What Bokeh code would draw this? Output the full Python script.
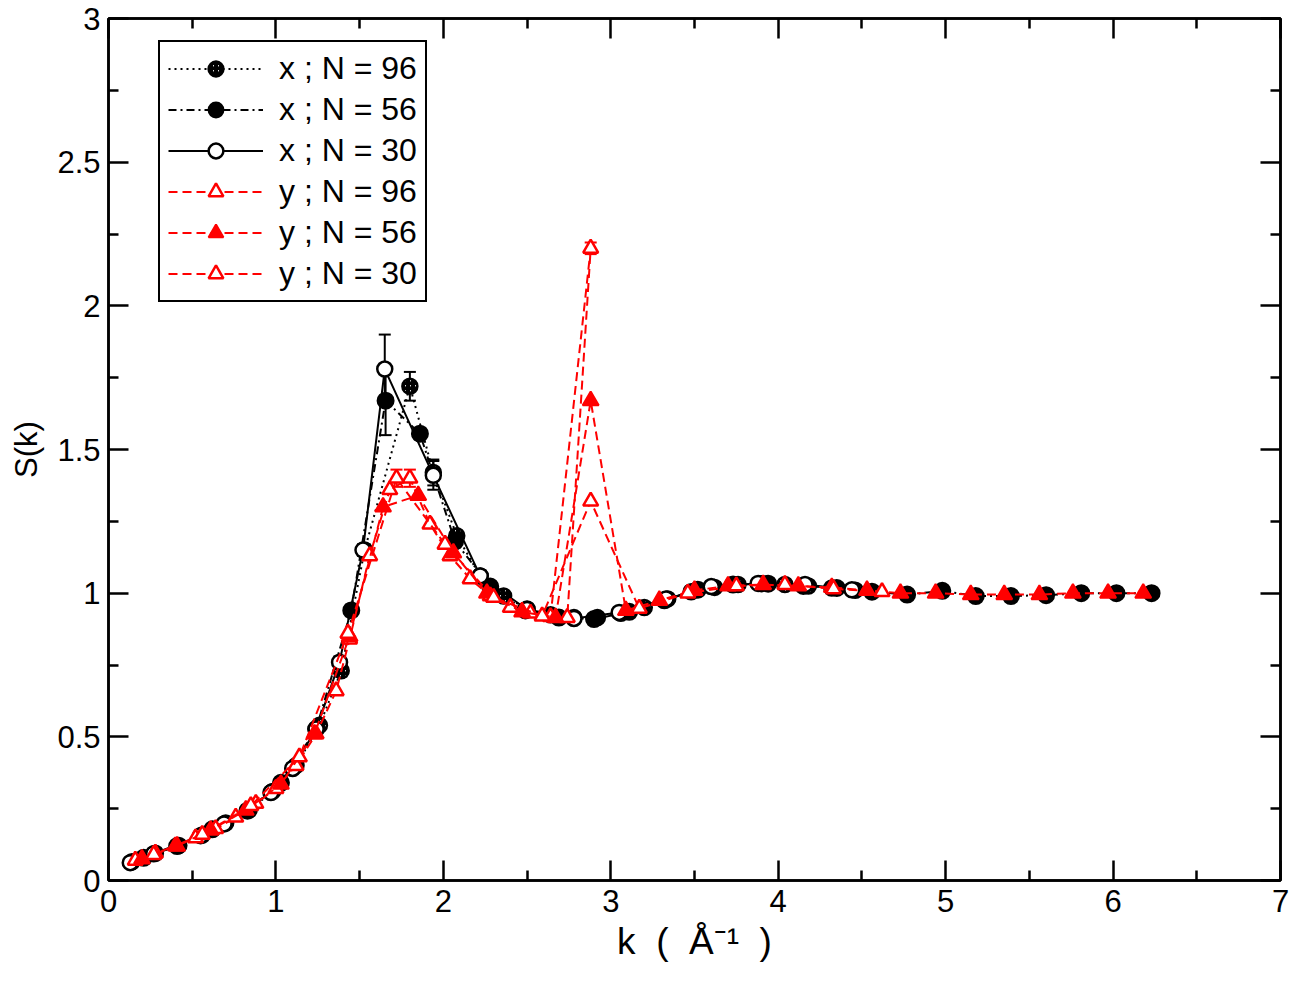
from bokeh.plotting import figure
from bokeh.models import (Legend, LegendItem, Whisker, ColumnDataSource, FixedTicker,
                          LinearAxis, Range1d, TeeHead)
from bokeh.embed import file_html
from bokeh.resources import INLINE

# ---------------- data ----------------
# x-direction, N = 96
x96_k = [0.14, 0.28, 0.42, 0.56, 0.70, 0.84, 0.98, 1.12, 1.26, 1.39, 1.53, 1.80, 1.94, 2.08,
         2.22, 2.36, 2.50, 2.64, 2.78, 2.92, 3.06, 3.20, 3.34, 3.48, 3.62, 3.76, 3.90, 4.04,
         4.18, 4.32, 4.46]
x96_s = [0.065, 0.095, 0.122, 0.158, 0.200, 0.245, 0.310, 0.400, 0.540, 0.730, 1.150, 1.720,
         1.420, 1.200, 1.060, 0.990, 0.945, 0.925, 0.915, 0.915, 0.930, 0.950, 0.980, 1.005,
         1.020, 1.030, 1.033, 1.030, 1.025, 1.018, 1.010]
x96_e = [0, 0, 0, 0, 0, 0, 0, 0, 0, 0.02, 0.02, 0.05, 0.045, 0, 0, 0, 0, 0, 0, 0, 0, 0, 0,
         0, 0, 0, 0, 0, 0, 0, 0]

# x-direction, N = 56
x56_k = [0.21, 0.41, 0.62, 0.83, 1.03, 1.24, 1.45, 1.655, 1.86, 2.07, 2.28, 2.49, 2.69, 2.90,
         3.11, 3.32, 3.52, 3.73, 3.94, 4.15, 4.35, 4.56, 4.77, 4.98, 5.18, 5.39, 5.60, 5.81,
         6.02, 6.23]
x56_s = [0.079, 0.120, 0.178, 0.243, 0.340, 0.527, 0.940, 1.670, 1.555, 1.180, 1.023, 0.940,
         0.915, 0.910, 0.935, 0.975, 1.012, 1.030, 1.033, 1.025, 1.018, 1.005, 0.995, 1.008,
         0.990, 0.990, 0.993, 1.000, 1.000, 1.000]
x56_e = [0, 0, 0, 0, 0, 0, 0.02, 0.12, 0.02, 0.02, 0, 0, 0, 0, 0, 0, 0, 0, 0, 0, 0, 0, 0,
         0, 0, 0, 0, 0, 0, 0]

# x-direction, N = 30
x30_k = [0.13, 0.27, 0.55, 0.69, 0.97, 1.10, 1.24, 1.38, 1.52, 1.65, 1.94, 2.22, 2.50, 2.78,
         3.05, 3.33, 3.60, 3.88, 4.16, 4.44]
x30_s = [0.062, 0.093, 0.156, 0.197, 0.306, 0.390, 0.527, 0.760, 1.150, 1.780, 1.410, 1.060,
         0.943, 0.912, 0.933, 0.980, 1.023, 1.034, 1.030, 1.012]
x30_e = [0, 0, 0, 0, 0, 0, 0, 0.02, 0.02, 0.12, 0.05, 0.02, 0, 0, 0, 0, 0, 0, 0, 0]

# y-direction, N = 96
y96_k = [0.16, 0.28, 0.40, 0.52, 0.64, 0.76, 0.88, 1.00, 1.12, 1.24, 1.36, 1.44, 1.56, 1.68,
         1.80, 1.92, 2.04, 2.16, 2.28, 2.40, 2.52, 2.64, 2.88, 2.74]
y96_s = [0.070, 0.095, 0.120, 0.148, 0.180, 0.220, 0.268, 0.320, 0.400, 0.510, 0.660, 0.840,
         1.130, 1.360, 1.400, 1.240, 1.130, 1.050, 0.990, 0.950, 0.930, 0.918, 2.200, 0.915]
y96_e = [0, 0, 0, 0, 0, 0, 0, 0, 0, 0, 0, 0, 0, 0, 0.03, 0, 0, 0, 0, 0, 0, 0, 0.02, 0]

# y-direction, N = 56
y56_k = [0.20, 0.41, 0.61, 0.82, 1.03, 1.23, 1.44, 1.64, 1.85, 2.06, 2.26, 2.47, 2.67, 2.88,
         3.09, 3.29, 3.50, 3.70, 3.91, 4.12, 4.32, 4.53, 4.73, 4.94, 5.15, 5.35, 5.56, 5.76,
         5.97, 6.18]
y56_s = [0.075, 0.120, 0.175, 0.245, 0.335, 0.510, 0.850, 1.300, 1.340, 1.140, 1.000, 0.935,
         0.915, 1.670, 0.940, 0.975, 1.010, 1.025, 1.030, 1.025, 1.020, 1.010, 1.000, 1.000,
         0.995, 0.995, 0.995, 1.000, 1.000, 1.000]
y56_e = [0] * 30

# y-direction, N = 30
y30_k = [0.27, 0.56, 0.85, 1.14, 1.43, 1.72, 2.01, 2.30, 2.59, 2.88, 3.17, 3.46, 3.75, 4.04,
         4.33, 4.62]
y30_s = [0.090, 0.160, 0.260, 0.430, 0.860, 1.400, 1.170, 0.985, 0.920, 1.320, 0.947, 1.000,
         1.025, 1.030, 1.015, 1.005]
y30_e = [0, 0, 0, 0, 0, 0.03, 0, 0, 0, 0, 0, 0, 0, 0, 0, 0]

labels = ["x ; N = 96", "x ; N = 56", "x ; N = 30", "y ; N = 96", "y ; N = 56", "y ; N = 30"]

x_ticks = [0, 1, 2, 3, 4, 5, 6, 7]
y_ticks = [0, 0.5, 1, 1.5, 2, 2.5, 3]
x_minor = [0.5, 1.5, 2.5, 3.5, 4.5, 5.5, 6.5]
y_minor = [0.25, 0.75, 1.25, 1.75, 2.25, 2.75]

# ---------------- figure ----------------
FONT = "Liberation Sans"
RED = "#ff0000"
NB = "\u00a0"

p = figure(width=1290, height=975, x_range=Range1d(0, 7), y_range=Range1d(0, 3),
           output_backend="svg", toolbar_location=None,
           min_border_left=108, min_border_right=10, min_border_top=18, min_border_bottom=95)
p.grid.visible = False
p.outline_line_color = "black"
p.outline_line_width = 2.5
p.background_fill_color = "white"
p.border_fill_color = "white"

def style_axis(ax, labels_on=True):
    ax.axis_line_width = 2.5
    ax.major_tick_line_width = 2.5
    ax.minor_tick_line_width = 2.5
    ax.major_tick_in = 20
    ax.major_tick_out = 0
    ax.minor_tick_in = 10
    ax.minor_tick_out = 0
    ax.major_label_text_font = FONT
    ax.major_label_text_font_size = "31px"
    ax.major_label_text_color = "black"
    if not labels_on:
        ax.major_label_overrides = {t: "" for t in ax.ticker.ticks}
        ax.major_label_standoff = 0

xt = FixedTicker(ticks=x_ticks, minor_ticks=x_minor)
yt = FixedTicker(ticks=y_ticks, minor_ticks=y_minor)

p.xaxis.ticker = xt
p.yaxis.ticker = yt
style_axis(p.xaxis[0])
style_axis(p.yaxis[0])
p.yaxis[0].major_label_overrides = {0: "0", 0.5: "0.5", 1: "1", 1.5: "1.5", 2: "2", 2.5: "2.5", 3: "3"}
p.xaxis.axis_label = "k" + NB * 2 + "(" + NB * 2 + "Å⁻¹" + NB * 2 + ")"
p.xaxis.axis_label_text_font = FONT
p.xaxis.axis_label_text_font_size = "37px"
p.xaxis.axis_label_text_font_style = "normal"
p.xaxis.axis_label_text_color = "black"
p.xaxis.axis_label_standoff = 6
p.xaxis.major_label_standoff = 9
p.yaxis.axis_label = "S(k)"
p.yaxis.axis_label_text_font = FONT
p.yaxis.axis_label_text_font_size = "31px"
p.yaxis.axis_label_text_font_style = "normal"
p.yaxis.axis_label_text_color = "black"
p.yaxis.axis_label_standoff = 10
p.yaxis.major_label_standoff = 8

top_ax = LinearAxis(ticker=FixedTicker(ticks=x_ticks, minor_ticks=x_minor))
style_axis(top_ax, labels_on=False)
p.add_layout(top_ax, "above")
right_ax = LinearAxis(ticker=FixedTicker(ticks=y_ticks, minor_ticks=y_minor))
style_axis(right_ax, labels_on=False)
p.add_layout(right_ax, "right")

series = [
    (x96_k, x96_s, x96_e, "black", "dotted_hatch"),
    (x56_k, x56_s, x56_e, "black", "filled_circle"),
    (x30_k, x30_s, x30_e, "black", "open_circle"),
    (y96_k, y96_s, y96_e, RED, "open_tri"),
    (y56_k, y56_s, y56_e, RED, "filled_tri"),
    (y30_k, y30_s, y30_e, RED, "open_tri"),
]
dashes = ["2 4", "8 4 2 4", "solid", "9 5", "9 5", "9 5"]

items = []
for (k, s, e, col, kind), dash, lab in zip(series, dashes, labels):
    src = ColumnDataSource(dict(k=k, s=s))
    ek = [a for a, b in zip(k, e) if b > 0]
    es = [c for c, b in zip(s, e) if b > 0]
    ee = [b for b in e if b > 0]
    if ek:
        esrc = ColumnDataSource(dict(k=ek, up=[c + b for c, b in zip(es, ee)],
                                     lo=[c - b for c, b in zip(es, ee)]))
        w = Whisker(source=esrc, base="k", upper="up", lower="lo", dimension="height",
                    line_color=col, line_width=2,
                    upper_head=TeeHead(size=12, line_color=col, line_width=2),
                    lower_head=TeeHead(size=12, line_color=col, line_width=2),
                    level="underlay")
        p.add_layout(w)
    lr = p.line("k", "s", source=src, line_color=col, line_width=2, line_dash=dash)
    if kind == "dotted_hatch":
        sr = p.scatter("k", "s", source=src, marker="circle", size=15, line_color="black",
                       line_width=2.5, fill_color="white", hatch_pattern="/",
                       hatch_color="black", hatch_scale=5, hatch_weight=2.5)
    elif kind == "filled_circle":
        sr = p.scatter("k", "s", source=src, marker="circle", size=16, line_color="black",
                       line_width=2, fill_color="black")
    elif kind == "open_circle":
        sr = p.scatter("k", "s", source=src, marker="circle", size=15, line_color="black",
                       line_width=2.5, fill_color="white")
    elif kind == "filled_tri":
        sr = p.scatter("k", "s", source=src, marker="triangle", size=16, line_color=col,
                       line_width=2, fill_color=col)
    else:
        sr = p.scatter("k", "s", source=src, marker="triangle", size=15, line_color=col,
                       line_width=2.5, fill_color="white")
    items.append(LegendItem(label=lab, renderers=[lr, sr]))

legend = Legend(items=items, location=(50, 578), orientation="vertical",
                label_text_font=FONT, label_text_font_size="32px", label_text_color="black",
                glyph_width=95, glyph_height=37, label_height=37, spacing=4,
                padding=8, margin=0, label_standoff=16,
                border_line_color="black", border_line_width=2.5, border_line_alpha=1.0,
                background_fill_color="white", background_fill_alpha=1.0)
p.add_layout(legend, "center")

open("out.html", "w").write(file_html(p, INLINE))
